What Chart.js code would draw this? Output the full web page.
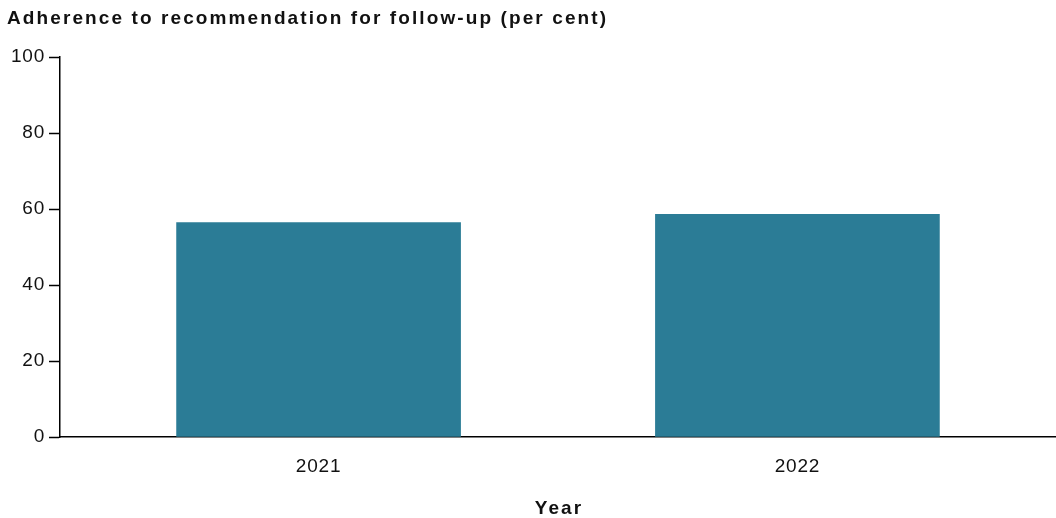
<!DOCTYPE html>
<html>
<head>
<meta charset="utf-8">
<script src="https://cdn.jsdelivr.net/npm/chart.js@4"></script>
<style>
  html, body { margin: 0; padding: 0; background: #fff; }
  #wrap { width: 1056px; height: 518px; }
</style>
</head>
<body>
<div id="wrap"><canvas id="c" width="1056" height="518"></canvas></div>
<script>
// Follow-up adherence by year
const years = [2021, 2022];
const adherence = [56.4, 58.6];
const yTicks = [0, 20, 40, 60, 80, 100];
const chartTitle = 'Adherence to recommendation for follow-up (per cent)';
const xTitle = 'Year';

const FONT = "'Liberation Sans', Arial, sans-serif";
const BAR = '#2b7c96';
const INK = '#111';

// Title and axis caption drawn with a little tracking, as in the print style
const captions = {
  id: 'captions',
  beforeDraw(chart) {
    chart.ctx.letterSpacing = '0.8px';
  },
  afterDraw(chart) {
    const ctx = chart.ctx;
    ctx.save();
    ctx.fillStyle = INK;
    ctx.font = `bold 19px ${FONT}`;
    ctx.letterSpacing = '2.1px';
    ctx.textBaseline = 'alphabetic';
    ctx.textAlign = 'left';
    ctx.fillText(chartTitle, 7, 24);
    const a = chart.chartArea;
    ctx.textAlign = 'center';
    ctx.fillText(xTitle, (a.left + a.right) / 2 + 1, 514);
    ctx.restore();
  }
};

new Chart(document.getElementById('c'), {
  type: 'bar',
  data: {
    datasets: [{
      data: years.map((y, i) => ({ x: y, y: adherence[i] })),
      backgroundColor: BAR,
      borderWidth: 0,
      barThickness: 284
    }]
  },
  plugins: [captions],
  options: {
    responsive: false,
    animation: false,
    layout: { padding: { left: 0, right: 0, top: 57, bottom: 0 } },
    plugins: {
      legend: { display: false },
      tooltip: { enabled: false },
      title: { display: false }
    },
    scales: {
      x: {
        type: 'linear',
        offset: false,
        min: 2020.46,
        max: 2022.54,
        afterBuildTicks: s => { s.ticks = years.map(v => ({ value: v })); },
        afterFit: s => { s.height = 81; },
        ticks: {
          callback: v => String(v),
          color: INK,
          font: { family: FONT, size: 19 },
          padding: 18,
          maxRotation: 0
        },
        grid: { display: true, offset: false, drawOnChartArea: false, drawTicks: false },
        border: { display: true, color: '#000', width: 1.5 }
      },
      y: {
        min: 0,
        max: 100,
        afterBuildTicks: s => { s.ticks = yTicks.map(v => ({ value: v })); },
        afterFit: s => { s.width = 60; },
        ticks: {
          color: INK,
          font: { family: FONT, size: 19 },
          padding: 4
        },
        grid: { display: true, drawOnChartArea: false, drawTicks: true, tickLength: 11, color: '#000', tickWidth: 1.5 },
        border: { display: true, color: '#000', width: 1.5 }
      }
    }
  }
});
</script>
</body>
</html>
